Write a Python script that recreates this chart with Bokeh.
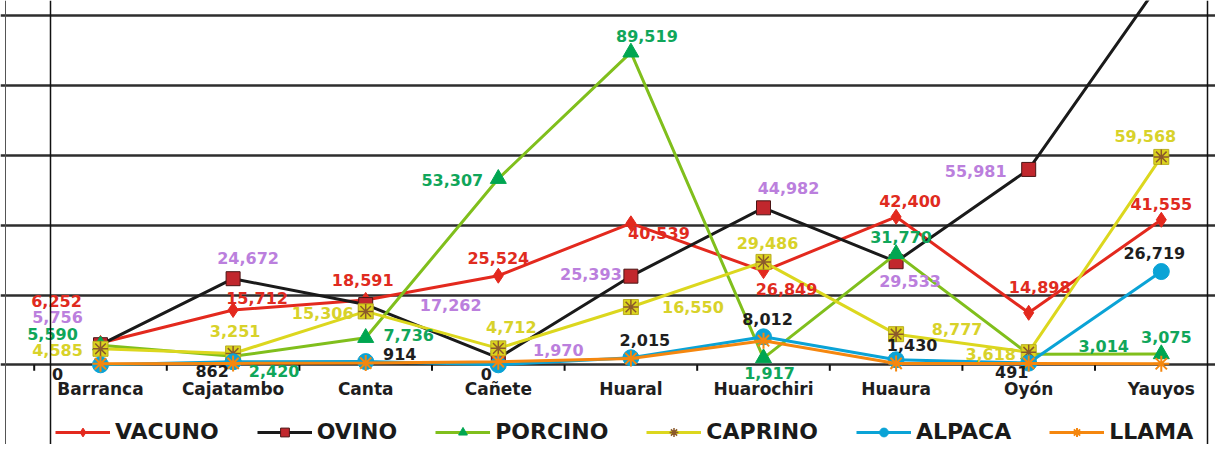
from bokeh.plotting import figure
from bokeh.models import Range1d, FixedTicker, Span, Legend, LegendItem, ColumnDataSource
from bokeh.core.properties import value
from bokeh.embed import file_html
from bokeh.resources import INLINE

# ---------------- data ----------------
categories = ["Barranca", "Cajatambo", "Canta", "Cañete", "Huaral",
              "Huarochiri", "Huaura", "Oyón", "Yauyos"]
vacuno = [6252, 15712, 18591, 25524, 40539, 26849, 42400, 14898, 41555]
ovino = [5756, 24672, 17262, 1970, 25393, 44982, 29533, 55981, 110000]
porcino = [5590, 2420, 7736, 53307, 89519, 1917, 31770, 3014, 3075]
caprino = [4585, 3251, 15306, 4712, 16550, 29486, 8777, 3618, 59568]
alpaca = [0, 862, 914, 0, 2015, 8012, 1430, 491, 26719]
llama = [300, 400, 500, 900, 1800, 6900, 400, 400, 300]
grid_ticks = [0, 20000, 40000, 60000, 80000, 100000]
series_names = ["VACUNO", "OVINO", "PORCINO", "CAPRINO", "ALPACA", "LLAMA"]

# label offsets in screen pixels (dx right, dy down)
vacuno_off = [(-44, -42), (24, -12), (-3, -20), (0, -18), (28, 10), (23, 18), (14, -16), (11, -26), (0, -16)]
ovino_off = [(-43, -28), (15, -21), (85, 0), (60, -8), (-40, -2), (25, -20), (14, 19), (-53, 2), (0, -18)]
porcino_off = [(-48, -11), (41, 15), (43, -3), (-46, 1), (16, -16), (6, 15), (5, -17), (75, -8), (5, -17)]
caprino_off = [(-43, 1), (2, -22), (-43, 2), (13, -21), (62, 0), (4, -19), (61, -5), (-38, 2), (-16, -21)]
alpaca_off = [(-43, 9), (-21, 9), (34, -8), (-12, 9), (14, -18), (4, -18), (16, -15), (-17, 9), (-7, -19)]

# ---------------- geometry ----------------
W, H = 1215, 444
PX_PER_CAT = 132.6
UNITS_PER_PX = 20000 / 69.8
x_start = (0 - 100) / PX_PER_CAT
x_end = x_start + W / PX_PER_CAT
y_end = 364.3 * UNITS_PER_PX
y_start = y_end - H * UNITS_PER_PX

p = figure(width=W, height=H, output_backend="svg", toolbar_location=None,
           x_range=Range1d(x_start, x_end), y_range=Range1d(y_start, y_end),
           x_axis_location=None, y_axis_location=None,
           min_border=0, min_border_left=0, min_border_right=0,
           min_border_top=0, min_border_bottom=0)
p.outline_line_color = None
p.background_fill_color = "white"
p.border_fill_color = "white"
p.xgrid.visible = False
p.ygrid.ticker = FixedTicker(ticks=grid_ticks)
p.ygrid.grid_line_color = "#2e2e2e"
p.ygrid.grid_line_width = 2.5

xs = list(range(len(categories)))

# vertical border lines
p.add_layout(Span(location=x_start + 5 / PX_PER_CAT, dimension="height",
                  line_color="#555555", line_width=1))
p.add_layout(Span(location=x_start + 50 / PX_PER_CAT, dimension="height",
                  line_color="#111111", line_width=1.5))
p.add_layout(Span(location=x_start + 1207 / PX_PER_CAT, dimension="height",
                  line_color="#111111", line_width=1.5))

# category tick marks below baseline
bounds = [i - 0.5 for i in xs]
p.segment(x0=bounds, y0=[0] * len(bounds), x1=bounds, y1=[-6 * UNITS_PER_PX] * len(bounds),
          line_color="#111111", line_width=2)

LW = 3
# VACUNO
l_v = p.line(xs, vacuno, line_color="#E3291E", line_width=LW)
s_v = p.scatter(xs, vacuno, marker="diamond", size=15, fill_color="#E3291E", line_color="#E3291E")
# OVINO
l_o = p.line(xs, ovino, line_color="#1A1A1A", line_width=LW)
s_o = p.scatter(xs, ovino, marker="square", size=14, fill_color="#C1272D", line_color="#4a1515", line_width=1)
# PORCINO
l_p = p.line(xs, porcino, line_color="#80BF1C", line_width=LW)
s_p = p.scatter(xs, porcino, marker="triangle", size=16, fill_color="#00A651", line_color="#00A651")
# CAPRINO
l_c = p.line(xs, caprino, line_color="#DCD71E", line_width=LW)
s_c = p.scatter(xs, caprino, marker="square", size=15, fill_color="#DCD41E", line_color="#B8AE20", line_width=1)
s_c2 = p.scatter(xs, caprino, marker="asterisk", size=15, line_color="#8B5A2B", line_width=1.5)
# ALPACA
l_a = p.line(xs, alpaca, line_color="#0AA3D6", line_width=LW)
s_a = p.scatter(xs, alpaca, marker="circle", size=16, fill_color="#0AA3D6", line_color="#0AA3D6")
# LLAMA
l_l = p.line(xs, llama, line_color="#F5870F", line_width=LW)
s_l = p.scatter(xs, llama, marker="asterisk", size=16, line_color="#F5870F", line_width=2)

# data labels
def add_labels(vals, offs, color):
    lx, ly, lt = [], [], []
    for i, (v, (dx, dy)) in enumerate(zip(vals, offs)):
        if v > y_end:
            continue
        lx.append(i + dx / PX_PER_CAT)
        ly.append(v - dy * UNITS_PER_PX)
        lt.append(f"{v:,}")
    src = ColumnDataSource(dict(x=lx, y=ly, t=lt))
    p.text(x="x", y="y", text="t", source=src, text_color=color,
           text_font=value("DejaVu Sans"), text_font_style="bold",
           text_font_size="16px", text_align="center", text_baseline="middle")

add_labels(vacuno, vacuno_off, "#E02B20")
add_labels(ovino, ovino_off, "#BB7FDD")
add_labels(porcino, porcino_off, "#10A65A")
add_labels(caprino, caprino_off, "#D8D22A")
add_labels(alpaca, alpaca_off, "#1E1E1E")

# category labels
cat_src = ColumnDataSource(dict(x=xs, y=[-24 * UNITS_PER_PX] * len(xs), t=categories))
p.text(x="x", y="y", text="t", source=cat_src, text_color="#1E1E1E",
       text_font=value("DejaVu Sans"), text_font_style="bold", text_font_size="17px",
       text_align="center", text_baseline="middle")

legend = Legend(items=[
    LegendItem(label=series_names[0], renderers=[l_v, s_v]),
    LegendItem(label=series_names[1], renderers=[l_o, s_o]),
    LegendItem(label=series_names[2], renderers=[l_p, s_p]),
    LegendItem(label=series_names[3], renderers=[l_c, s_c2]),
    LegendItem(label=series_names[4], renderers=[l_a, s_a]),
    LegendItem(label=series_names[5], renderers=[l_l, s_l]),
], orientation="horizontal", location=(55, 0), glyph_width=55, glyph_height=22,
    label_height=22, label_standoff=5, spacing=38, padding=0, margin=0,
    border_line_color=None, background_fill_alpha=0,
    label_text_font="DejaVu Sans", label_text_font_style="bold",
    label_text_font_size="22px", label_text_color="#1A1A1A")
p.add_layout(legend)

open("out.html", "w").write(file_html(p, INLINE))
